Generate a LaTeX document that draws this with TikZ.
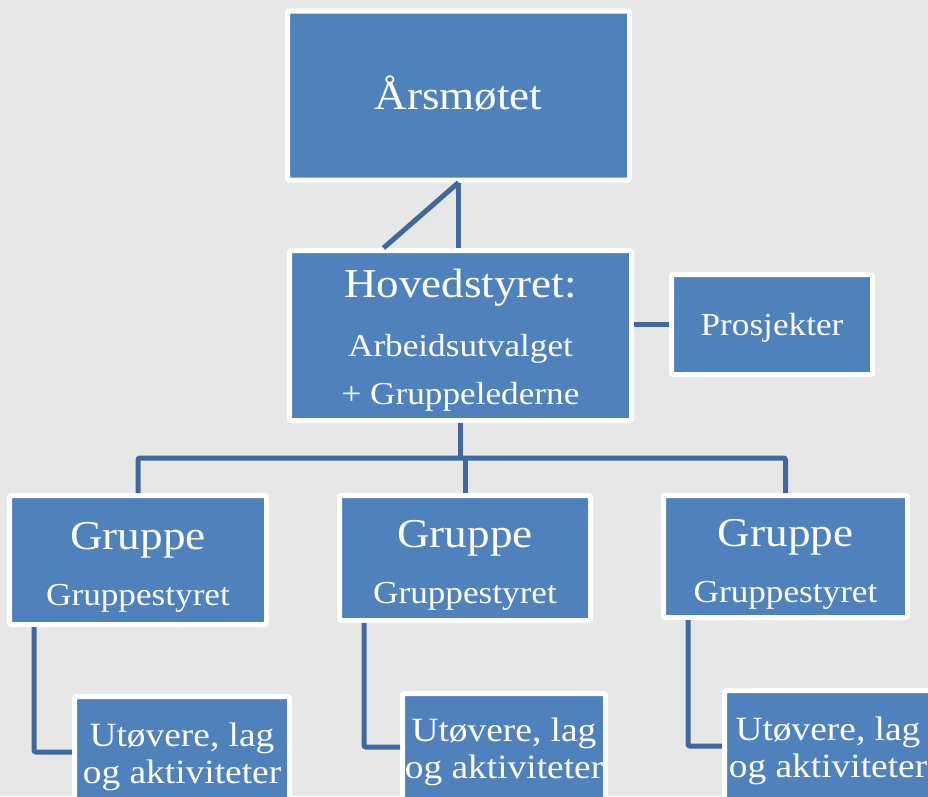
\documentclass[tikz,border=0pt]{standalone}
\usepackage{fontspec}
\setmainfont[FakeStretch=1.1]{Liberation Serif}
\usetikzlibrary{calc,positioning}
\definecolor{boxblue}{HTML}{4F81BD}
\definecolor{lineblue}{HTML}{41689C}
\definecolor{bggray}{HTML}{E7E7E7}
\newcommand{\bigtext}{\fontsize{41}{48}\selectfont}

\begin{document}
\begin{tikzpicture}[x=1pt,y=-1pt,
  orgbox/.style={draw=white,line width=5pt,fill=boxblue,text=white,rounded corners=1.5pt,
    inner sep=0pt,align=center,font=\fontsize{32}{48}\selectfont},
  groupbox/.style={orgbox,font=\fontsize{32}{56}\selectfont},
  subbox/.style={orgbox,font=\fontsize{34}{37}\selectfont},
  conn/.style={draw=lineblue,line width=5pt,rounded corners=2pt}]
  \useasboundingbox[fill=bggray] (0,0) rectangle (928,796);
  \clip (0,0) rectangle (928,796);
  \node[orgbox,minimum width=342pt,minimum height=169pt,text height=27pt,text depth=0pt] (ars) at (458.5,95.5) {\bigtext Årsmøtet};
  \node[orgbox,minimum width=342pt,minimum height=170pt] (hoved) at (460.5,335.5)
    {\bigtext\rule{0pt}{38pt}Hovedstyret:\\[11pt] Arbeidsutvalget\\ + Gruppelederne};
  \node[orgbox,minimum width=201pt,minimum height=100pt,text height=21pt,text depth=0pt] (pros) at (772,324.5) {Prosjekter};
  \node[groupbox,minimum width=257pt,minimum height=129pt] (g1) at (138,560) {\bigtext\rule{0pt}{42pt}Gruppe\\ Gruppestyret};
  \node[groupbox,minimum width=251pt,minimum height=125pt] (g2) at (465,558) {\bigtext\rule{0pt}{42pt}Gruppe\\ Gruppestyret};
  \node[groupbox,minimum width=244pt,minimum height=122pt] (g3) at (785.5,556.5) {\bigtext\rule{0pt}{42pt}Gruppe\\ Gruppestyret};
  \node[subbox,minimum width=215pt,minimum height=111pt] (s1) at (182,752) {\rule{0pt}{33pt}Utøvere, lag\\ og aktiviteter};
  \node[subbox,minimum width=203pt,minimum height=107pt] (s2) at (504,747) {\rule{0pt}{33pt}Utøvere, lag\\ og aktiviteter};
  \node[subbox,minimum width=207pt,minimum height=111pt] (s3) at (828,746) {\rule{0pt}{33pt}Utøvere, lag\\ og aktiviteter};
  \draw[conn] (ars.south) -- (ars.south |- hoved.north);
  \draw[conn] (ars.south) -- ([xshift=-77pt]hoved.north);
  \draw[conn] (hoved.east |- pros.west) -- (pros.west);
  \draw[conn] (hoved.south) -- ++(0,35) coordinate (bus);
  \draw[conn] (g1.north) |- (bus) -| (g3.north);
  \draw[conn] (g2.north) -- (g2.north |- bus);
  \draw[conn] ([xshift=27pt]g1.south west) |- (s1.west);
  \draw[conn] ([xshift=27pt]g2.south west) |- (s2.west);
  \draw[conn] ([xshift=27pt]g3.south west) |- (s3.west);
\end{tikzpicture}
\end{document}
